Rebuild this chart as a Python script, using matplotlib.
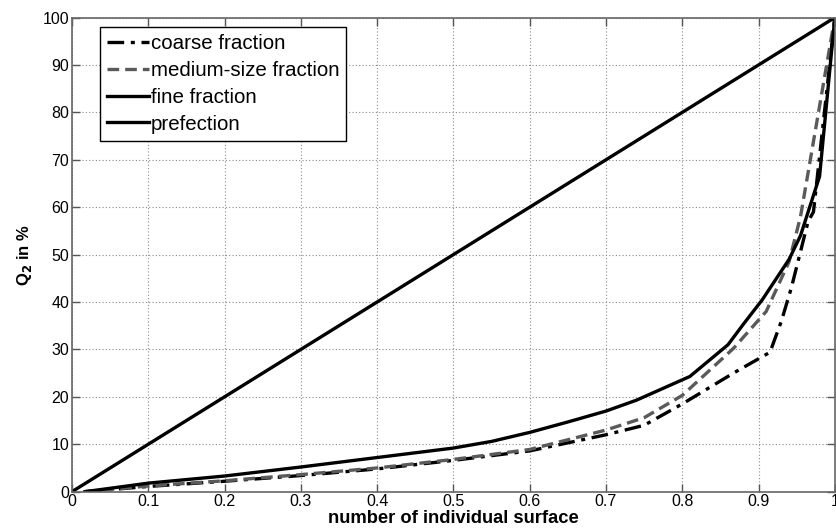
import matplotlib
matplotlib.use("Agg")
import matplotlib.pyplot as plt

plt.rcParams["font.family"] = ["Liberation Sans", "DejaVu Sans"]

# perfect distribution (diagonal)
x_perfect = [0.0, 1.0]
y_perfect = [0.0, 100.0]

# fine fraction
x_fine = [0.017, 0.1, 0.2, 0.3, 0.4, 0.5, 0.55, 0.6, 0.65, 0.7, 0.74, 0.81,
          0.86, 0.88, 0.905, 0.94, 0.955, 0.98, 1.0]
y_fine = [0.0, 1.8, 3.3, 5.2, 7.2, 9.2, 10.6, 12.5, 14.7, 17.0, 19.3, 24.3,
          31.0, 35.3, 40.5, 49.0, 54.0, 66.5, 100.0]

# medium-size fraction
x_medium = [0.017, 0.1, 0.2, 0.3, 0.4, 0.5, 0.6, 0.7, 0.75, 0.8, 0.867,
            0.91, 0.94, 0.955, 1.0]
y_medium = [0.0, 1.2, 2.3, 3.6, 5.0, 6.8, 8.9, 13.0, 15.6, 20.3, 30.2,
            38.0, 48.5, 58.0, 100.0]

# coarse fraction
x_coarse = [0.017, 0.1, 0.2, 0.3, 0.4, 0.5, 0.6, 0.7, 0.75, 0.8, 0.867,
            0.915, 0.93, 0.943, 0.965, 0.972, 1.0]
y_coarse = [0.0, 1.1, 2.2, 3.4, 4.8, 6.6, 8.6, 12.0, 14.0, 18.5, 25.0,
            29.4, 36.0, 43.0, 57.0, 59.0, 100.0]

xticks = [0, 0.1, 0.2, 0.3, 0.4, 0.5, 0.6, 0.7, 0.8, 0.9, 1]
yticks = [0, 10, 20, 30, 40, 50, 60, 70, 80, 90, 100]

fig = plt.figure(figsize=(8.36, 5.28), dpi=100)
ax = fig.add_axes([0.0861, 0.0688, 0.9125, 0.898])

ax.plot(x_coarse, y_coarse, color="black", lw=2.4, linestyle=(0, (5, 2, 1.2, 2)),
        label="coarse fraction")
ax.plot(x_medium, y_medium, color="#5a5a5a", lw=2.4, linestyle=(0, (3.5, 1.8)),
        label="medium-size fraction")
ax.plot(x_fine, y_fine, color="black", lw=2.4, label="fine fraction")
ax.plot(x_perfect, y_perfect, color="black", lw=2.4, label="prefection")

ax.set_xlim(0, 1)
ax.set_ylim(0, 100)
ax.set_xticks(xticks)
ax.set_xticklabels(["0", "0.1", "0.2", "0.3", "0.4", "0.5", "0.6", "0.7",
                    "0.8", "0.9", "1"])
ax.set_yticks(yticks)
ax.tick_params(direction="in", length=6, width=1, colors="#555555",
               labelcolor="black", labelsize=11.5, top=True, right=True, pad=2)
ax.grid(True, color="#8a8a8a", linestyle=(0, (1, 2)), linewidth=0.8)
for s in ax.spines.values():
    s.set_color("#666666")
    s.set_linewidth(1.2)

ax.set_xlabel("number of individual surface", fontsize=13.2, fontweight="bold",
              labelpad=0.5)
ax.set_ylabel("Q$_\\mathbf{2}$ in %", fontsize=12, fontweight="bold", labelpad=6)

leg = ax.legend(loc="upper left", bbox_to_anchor=(0.037, 0.98), fontsize=14.8,
                handlelength=2.0, handletextpad=0.1, labelspacing=0.38,
                borderpad=0.35, fancybox=False, framealpha=1, borderaxespad=0)
leg.get_frame().set_edgecolor("black")
leg.get_frame().set_linewidth(1.0)

fig.savefig("out.png", dpi=100)
